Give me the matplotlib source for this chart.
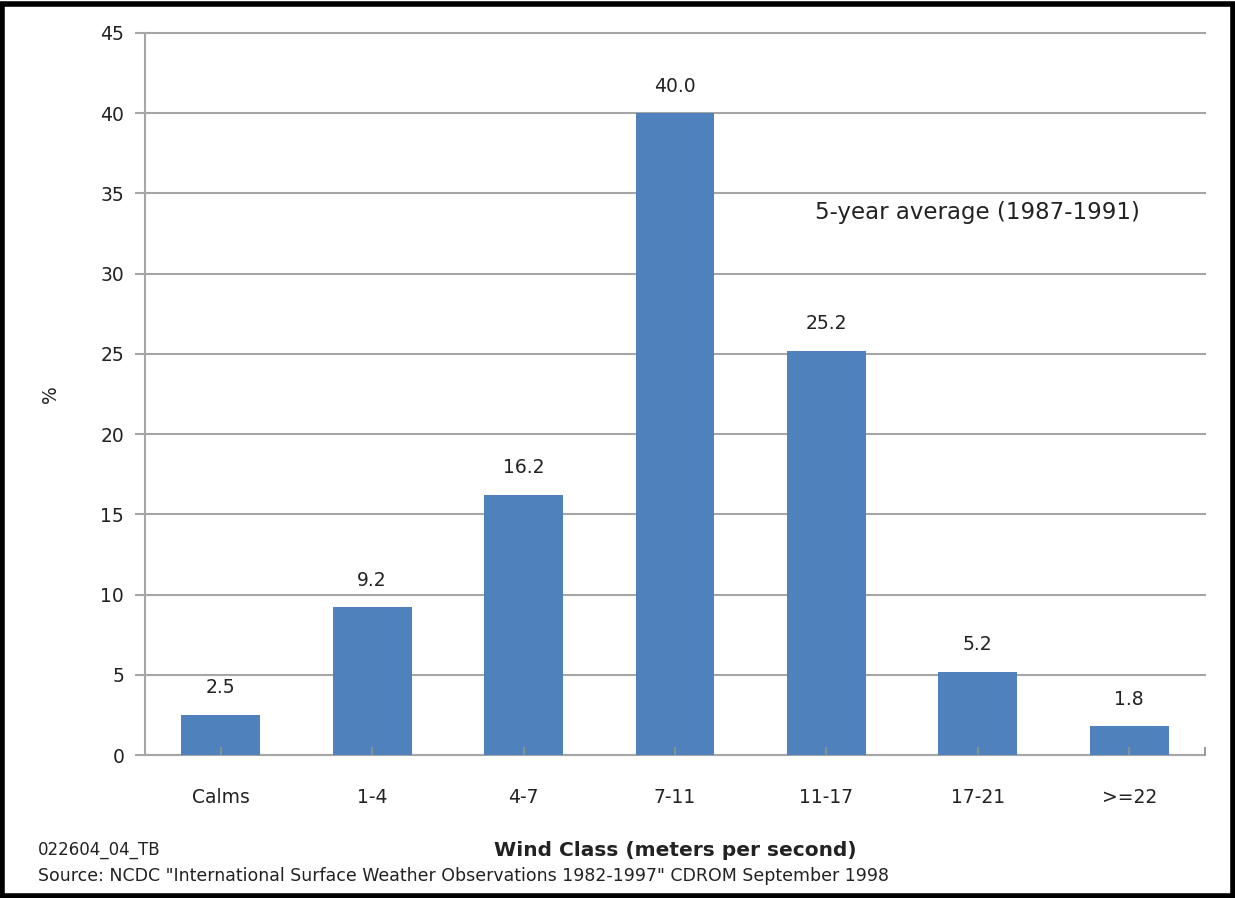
import matplotlib.pyplot as plt
from matplotlib.patches import Rectangle

categories = ['Calms', '1-4', '4-7', '7-11', '11-17', '17-21', '>=22']
percent = [2.5, 9.2, 16.2, 40.0, 25.2, 5.2, 1.8]
y_ticks = [0, 5, 10, 15, 20, 25, 30, 35, 40, 45]

plt.rcParams['font.family'] = ['DejaVu Sans']

fig = plt.figure(figsize=(12.35, 8.98), dpi=100)
ax = fig.add_axes([0.1174, 0.1592, 0.8583, 0.8041])

x = list(range(len(categories)))
ax.bar(x, percent, width=0.52, color='#4F81BD', zorder=3)
for i, v in zip(x, percent):
    ax.text(i, v + 1.1, '%.1f' % v, ha='center', va='bottom', fontsize=13.5, color='#222222')

xmax = len(categories) - 0.5
ax.set_xlim(-0.5, xmax)
ax.set_ylim(0, 45)
ax.set_yticks(y_ticks)
ax.yaxis.grid(True, color='#a6a6a6', linewidth=1.5, zorder=0)
for gl in ax.get_ygridlines():
    gl.set_clip_on(False)
ax.set_xticks(x)
ax.set_xticklabels(categories)
ax.tick_params(axis='y', direction='out', length=7, width=1.5, color='#a6a6a6', labelsize=13.5, pad=8,
               labelcolor='#222222')
ax.tick_params(axis='x', length=0, labelsize=13.5, pad=24, labelcolor='#222222')
# inward category ticks drawn over the bars, plus the closing tick at the right end
ax.plot(x + [xmax], [0] * (len(x) + 1), linestyle='none', marker=2, markersize=6,
        markeredgewidth=1.3, color='#909090', zorder=4, clip_on=False)

for s in ['top', 'right']:
    ax.spines[s].set_visible(False)
for s in ['left', 'bottom']:
    ax.spines[s].set_color('#a6a6a6')
    ax.spines[s].set_linewidth(1.5)

ax.set_ylabel('%', fontsize=13.5, color='#222222')
ax.yaxis.set_label_coords(-0.080, 0.5)
ax.text(0.632, 0.752, '5-year average (1987-1991)', transform=ax.transAxes, fontsize=16.5,
        va='center', color='#222222')

fig.text(0.547, 0.053, 'Wind Class (meters per second)', ha='center', va='center', fontsize=14.5,
         fontweight='bold', color='#222222')
fig.text(0.031, 0.053, '022604_04_TB', ha='left', va='center', fontsize=12, color='#222222')
fig.text(0.031, 0.025, 'Source: NCDC "International Surface Weather Observations 1982-1997" CDROM September 1998',
         ha='left', va='center', fontsize=12.5, color='#222222')

fig.patches.append(Rectangle((0.002, 0.002), 0.996, 0.994, transform=fig.transFigure,
                             fill=False, edgecolor='black', linewidth=4))

fig.savefig('out.png', dpi=100)
